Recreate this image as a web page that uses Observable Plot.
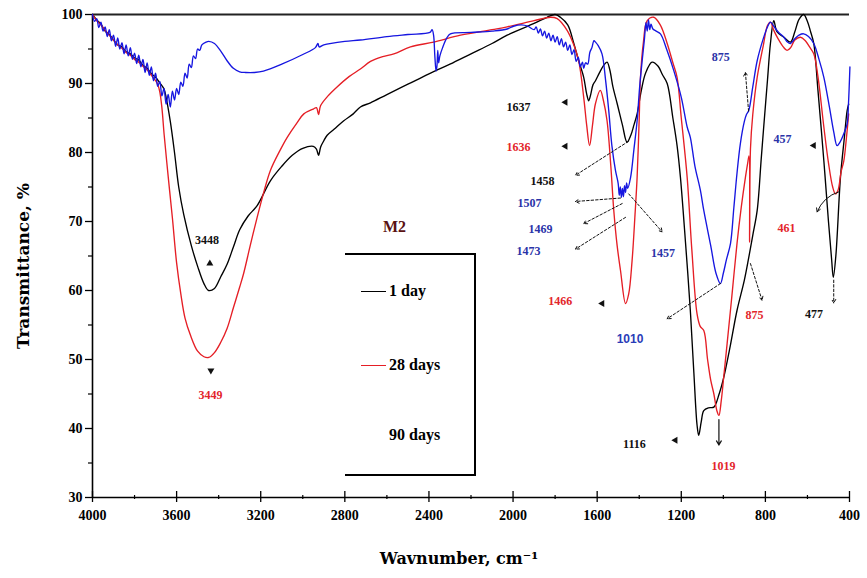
<!DOCTYPE html>
<html>
<head>
<meta charset="utf-8">
<script src="https://cdn.jsdelivr.net/npm/d3@7"></script>
<script src="https://cdn.jsdelivr.net/npm/@observablehq/plot@0.6"></script>
<style>
  html, body { margin: 0; padding: 0; background: #fff; }
  #wrap { position: relative; width: 867px; height: 578px; font-family: "Liberation Serif", serif; font-weight: bold; }
  #wrap svg { position: absolute; left: 0; top: 0; }
  .ov { position: absolute; white-space: nowrap; }
  #legbox { position: absolute; border-top: 2px solid #000; border-right: 2px solid #000; border-bottom: 2px solid #000; }
  .row { position: absolute; display: flex; align-items: center; font-size: 16px; }
  .sw { display: inline-block; width: 25px; height: 0; border-top: 1.5px solid; margin-right: 3px; }
</style>
</head>
<body>
<div id="wrap"></div>
<script>
// ---- data: wavenumber (cm-1), transmittance (%) ----
const seriesNames = ["1 day", "28 days", "90 days"];
const seriesColors = ["#000000", "#e51e25", "#1616e0"];

const day1 = [
  [4000,100],[3980,99.2],[3960,98.6],[3940,97.6],[3920,97.1],[3900,96.3],[3880,95.6],[3860,95.3],
  [3840,94.6],[3820,94.3],[3800,93.7],[3780,93.4],[3760,92.6],[3740,92.2],[3720,91.4],[3700,90.9],
  [3680,90.1],[3660,89.2],[3650,88],[3630,84.5],[3610,80],[3590,75],[3566,71],[3530,66.5],
  [3500,63.5],[3470,61],[3448,60],[3420,60.3],[3390,62],[3360,63.8],[3330,66.3],[3300,68.8],
  [3260,70.8],[3217,72.3],[3154,75.9],[3100,78],[3050,79.6],[3000,80.6],[2950,80.9],[2935,80.5],
  [2925,79.6],[2915,80.8],[2900,81.7],[2884,82.5],[2850,83.4],[2805,84.6],[2760,85.6],[2726,86.6],
  [2678,87.2],[2600,88.4],[2500,89.9],[2400,91.4],[2364,91.9],[2300,92.8],[2200,94.3],[2100,95.8],
  [2028,97.0],[1900,98.7],[1838,99.6],[1800,100],[1775,99.6],[1740,98.5],[1711,95.8],[1690,93.5],
  [1664,90.9],[1650,88.5],[1640,87.5],[1630,88.5],[1620,89.8],[1608,90.4],[1590,91.5],[1570,92.6],
  [1553,93.1],[1540,92],[1525,89.5],[1505,87.1],[1480,84],[1458,81.5],[1440,82.5],[1425,84],
  [1410,85.6],[1390,89],[1370,91.5],[1339,93.1],[1310,92.5],[1290,91.3],[1267,90],[1240,85],
  [1220,81],[1204,76.4],[1180,67],[1157,57.1],[1140,48],[1125,40.5],[1117,39],[1105,41],
  [1093,42.6],[1070,43],[1045,43.1],[1020,45],[998,47.4],[970,51.5],[935,57.1],[900,61.5],
  [879,64.8],[860,68],[839,71.6],[820,79],[808,83.7],[790,90.5],[776,95.8],[760,99.1],
  [745,97.5],[712,96.7],[681,96],[660,97.5],[640,99.3],[618,100],[600,99],[585,97.5],
  [570,95.8],[550,89],[522,78.8],[500,70],[485,64.5],[477,61.9],[465,65],[443,76.4],
  [425,82],[411,86.1],[404,87]
];

const day28 = [
  [4000,100],[3980,99.1],[3960,98.5],[3940,97.7],[3920,97.0],[3900,96.3],[3880,95.6],[3860,95.1],
  [3840,94.5],[3820,94.1],[3800,93.5],[3780,93.1],[3760,92.5],[3740,92.0],[3720,91.2],[3700,90.4],
  [3690,89.9],[3680,88.8],[3670,86.5],[3659,82.5],[3640,76.5],[3620,70.5],[3600,64],[3580,59.5],
  [3560,56],[3534,53.5],[3500,51.2],[3470,50.4],[3447,50.3],[3420,51],[3390,52.5],[3360,54.5],
  [3330,57.5],[3300,60.5],[3281,62.5],[3250,66.5],[3217,70.6],[3185,74.3],[3154,77.4],[3110,80.2],
  [3074,82.2],[3030,84.2],[2995,85.6],[2950,86.3],[2935,86.5],[2925,85.5],[2915,86.8],[2880,88.2],
  [2837,89.5],[2780,91],[2726,92.1],[2678,93.2],[2620,93.9],[2567,94.3],[2488,95.3],[2378,96],
  [2250,97],[2100,97.8],[2028,98.2],[1900,99.1],[1822,99.6],[1790,99.4],[1743,97.7],[1710,95.5],
  [1688,93.3],[1664,88],[1650,84],[1636,81],[1622,84],[1608,87.1],[1585,89],[1570,87.5],
  [1553,84.6],[1535,78],[1521,71.6],[1505,66.5],[1489,62.9],[1465,58.1],[1450,59.5],[1434,64.3],
  [1420,71],[1410,76.4],[1400,85],[1394,90.9],[1380,96],[1362,99.1],[1331,99.6],[1300,98.5],
  [1267,95.8],[1240,93],[1220,90.9],[1200,85],[1172,76.4],[1150,66],[1125,56.6],[1110,54.8],
  [1093,54.2],[1075,50],[1060,47],[1045,45],[1030,42.5],[1021,41.9],[1010,44],[998,47.5],
  [982,52.3],[960,59],[935,66.8],[915,72],[895,76.4],[884,78.5],[878,79.5],[875,67],
  [871,80.5],[860,85.5],[839,90.9],[810,95.5],[790,98.4],[776,98.9],[760,97.7],[740,96.5],
  [715,95.3],[697,94.8],[680,95.2],[660,96.3],[633,96.7],[610,96.2],[590,95.3],[570,94.3],
  [550,91],[522,83.7],[500,78.5],[480,75],[467,74],[455,74.5],[440,77.2],[427,78.8],
  [415,82],[404,85.6]
];

const day90 = [
  [4000,100],[3990,99.0],[3980,99.4],[3970,98.1],[3960,98.9],[3950,97.6],[3940,98.2],[3930,96.8],
  [3920,97.8],[3910,96.2],[3900,97.0],[3890,95.4],[3880,96.6],[3870,95.0],[3860,95.9],[3850,94.3],
  [3840,95.6],[3830,94.0],[3820,95.2],[3810,93.5],[3800,94.4],[3790,92.9],[3780,94.1],[3770,92.4],
  [3760,93.5],[3750,91.6],[3740,93.0],[3730,91.2],[3720,92.4],[3710,90.4],[3700,91.5],[3690,89.6],
  [3680,90.3],[3670,88.2],[3660,89.3],[3650,87.0],[3640,88.4],[3630,86.6],[3620,88.9],[3610,87.6],
  [3600,89.3],[3590,88.4],[3580,90.2],[3570,89.6],[3560,91.5],[3550,90.8],[3540,92.8],[3530,92.3],
  [3520,94.0],[3510,93.6],[3500,95.0],[3490,94.8],[3480,95.6],[3460,96.0],[3447,96.1],[3420,95.8],
  [3390,94.7],[3360,93.3],[3330,92.2],[3300,91.7],[3272,91.6],[3230,91.6],[3187,91.8],[3100,92.8],
  [3000,94.2],[2940,95.2],[2928,95.8],[2922,95.3],[2900,95.6],[2800,96.1],[2726,96.3],[2600,96.8],
  [2500,97.1],[2395,97.4],[2385,97.8],[2378,97.0],[2372,94],[2366,91.8],[2362,92.5],[2358,94.8],
  [2354,93.0],[2348,94.0],[2335,95.2],[2315,96.6],[2298,97.2],[2200,97.4],[2100,97.6],[2028,97.9],
  [1998,98.3],[1960,98.5],[1930,98.3],[1900,97.8],[1890,98.2],[1880,97.3],[1870,97.9],[1860,96.9],
  [1850,97.6],[1840,96.6],[1830,97.3],[1820,96.2],[1810,97.0],[1800,96.0],[1790,96.8],[1780,95.6],
  [1770,96.5],[1760,95.3],[1750,96.0],[1740,94.8],[1730,95.6],[1720,94.2],[1710,94.9],[1700,93.2],
  [1690,93.8],[1680,92.4],[1670,93.1],[1664,92.2],[1655,93.0],[1645,92.8],[1635,94.5],[1625,95.2],
  [1615,96.2],[1608,96.0],[1595,95.5],[1577,94.3],[1560,90.5],[1545,86.1],[1530,81],[1513,77.4],
  [1500,75.5],[1495,73.8],[1490,75.0],[1485,73.5],[1480,74.8],[1475,73.6],[1470,75.2],[1465,74.2],
  [1460,75.6],[1455,74.8],[1441,76.4],[1425,80.5],[1410,84.6],[1398,89.5],[1386,93.3],[1375,96.5],
  [1368,98.8],[1362,97.6],[1356,99.2],[1350,97.8],[1344,98.6],[1335,97.9],[1320,97.6],[1299,97.2],
  [1270,95],[1236,91.9],[1200,88],[1172,83.7],[1157,82.2],[1135,78],[1109,74.5],[1093,71.6],
  [1060,66.5],[1035,62.5],[1014,61],[1000,62.5],[985,64.5],[966,66.8],[950,72],[935,77],
  [919,81.3],[900,84.5],[890,85.5],[879,86.1],[860,89.5],[839,93.3],[810,96.5],[790,98.2],
  [776,98.9],[760,98.3],[740,97.5],[712,96.7],[695,96],[681,95.8],[660,96.5],[640,97],
  [618,97.2],[595,96.8],[570,95.8],[545,93.5],[522,90.9],[495,86.5],[475,83],[459,81],
  [445,81.5],[430,82.5],[411,84.2],[405,87],[398,92.4]
];

// tick values
const xMajor = [4000, 3600, 3200, 2800, 2400, 2000, 1600, 1200, 800, 400];
const xMinor = [3800, 3400, 3000, 2600, 2200, 1800, 1400, 1000, 600];
const yMajor = [30, 40, 50, 60, 70, 80, 90, 100];
const yMinor = [35, 45, 55, 65, 75, 85, 95];

// peak annotations: label, wavenumber, transmittance, colour, font
const annText  = ["3448","3449","1637","1636","1458","1507","1469","1473","1457","1466","1010","1116","1019","875","875","457","461","477"];
const annWn    = [3455, 3439, 1974, 1974, 1860, 1922, 1870, 1927, 1287, 1775, 1444, 1423, 999, 1012, 852, 719, 700, 569];
const annT     = [67.3, 44.8, 86.6, 80.8, 75.9, 72.6, 68.9, 65.7, 65.4, 58.4, 52.9, 37.8, 34.6, 93.8, 56.4, 82.0, 69.0, 56.6];
const annColor = ["#111","#e3262b","#111","#e3262b","#111","#2a33a8","#2a33a8","#2a33a8","#2a33a8","#e3262b","#2a3cb8","#111","#e3262b","#2a33a8","#e3262b","#2a33a8","#e3262b","#111"];
const annSans  = [false,false,false,false,false,false,false,false,false,false,true,false,false,false,false,false,false,false];

// lone arrow heads: wavenumber, transmittance, direction (deg)
const headWn  = [3442, 3437, 1751, 1751, 1576, 1228, 570];
const headT   = [63.9, 48.4, 87.3, 80.9, 58.1, 38.3, 81.0];
const headRot = [0, 180, 270, 270, 270, 270, 270];

// dashed pointer arrows: from (wn1,t1) to (wn2,t2)
const dashWn1 = [1452, 1489, 1481, 1465, 1450, 1014, 880, 871, 475];
const dashT1  = [81.6, 73.4, 72.6, 70.6, 74.0, 61.0, 86.0, 63.9, 61.5];
const dashWn2 = [1703, 1703, 1664, 1703, 1291, 1267, 895, 816, 475];
const dashT2  = [76.7, 72.9, 69.7, 66.0, 68.5, 55.9, 91.6, 58.6, 58.2];
// solid pointer arrows
const solidWn1 = [1021];
const solidT1  = [41.3];
const solidWn2 = [1021];
const solidT2  = [37.6];
// curved pointer arrow (461)
const bentWn1 = [451];
const bentT1  = [74.3];
const bentWn2 = [554];
const bentT2  = [71.4];

// ---- build ----
const rows = [];
[day1, day28, day90].forEach((s, k) => s.forEach(([w, t]) => rows.push({w, t, s: seriesNames[k]})));
const ann = annText.map((txt, i) => ({txt, w: annWn[i], t: annT[i], c: annColor[i], sans: annSans[i]}));
const heads = headWn.map((w, i) => ({w, t: headT[i], r: headRot[i]}));
const mk = (a, b, c, d) => a.map((w, i) => ({x1: w, y1: b[i], x2: c[i], y2: d[i]}));
const dashArr = mk(dashWn1, dashT1, dashWn2, dashT2);
const solidArr = mk(solidWn1, solidT1, solidWn2, solidT2);
const bentArr = mk(bentWn1, bentT1, bentWn2, bentT2);

const font = "Liberation Serif, Times New Roman, serif";
const chart = Plot.plot({
  width: 867, height: 578,
  marginLeft: 92, marginRight: 18, marginTop: 14, marginBottom: 81,
  x: {domain: [4000, 400]},
  y: {domain: [30, 100]},
  color: {domain: seriesNames, range: seriesColors},
  style: {fontFamily: font, background: "transparent", overflow: "visible"},
  marks: [
    Plot.axisY(yMajor, {tickSize: 7, tickPadding: 3, fontSize: 14, fontWeight: "bold", tickFormat: d => String(d), label: null, strokeWidth: 1.3}),
    Plot.axisY(yMinor, {tickSize: 4, tickFormat: () => "", label: null, strokeWidth: 1.2}),
    Plot.axisX(xMajor, {tickSize: 5, tickPadding: 8, fontSize: 14, fontWeight: "bold", tickFormat: d => String(d), label: null, strokeWidth: 1.3}),
    Plot.axisX(xMinor, {tickSize: 2, tickFormat: () => "", label: null, strokeWidth: 1.2}),
    Plot.ruleX(xMajor, {x: d => d, y1: 30, y2: 30 + 6 / 6.9, strokeWidth: 1.3}),
    Plot.ruleX(xMinor, {x: d => d, y1: 30, y2: 30 + 2 / 6.9, strokeWidth: 1.2}),
    Plot.ruleX([4000], {strokeWidth: 1.6}),
    Plot.ruleY([30], {strokeWidth: 1.6}),
    Plot.ruleY([100], {strokeWidth: 2.2, stroke: "#222"}),
    Plot.line(rows, {x: "w", y: "t", z: "s", stroke: "s", strokeWidth: 1.35, curve: "catmull-rom"}),
    Plot.arrow(dashArr, {x1: "x1", y1: "y1", x2: "x2", y2: "y2", stroke: "#111", strokeWidth: 1, strokeDasharray: "2.5,2", headLength: 6}),
    Plot.arrow(solidArr, {x1: "x1", y1: "y1", x2: "x2", y2: "y2", stroke: "#111", strokeWidth: 1.2, headLength: 6}),
    Plot.arrow(bentArr, {x1: "x1", y1: "y1", x2: "x2", y2: "y2", stroke: "#111", strokeWidth: 1, headLength: 6, bend: -25}),
    Plot.dot(heads, {x: "w", y: "t", symbol: "triangle", r: 2.6, fill: "#111", stroke: null, rotate: "r"}),
    Plot.text(ann.filter(d => !d.sans), {x: "w", y: "t", text: "txt", fill: "c", fontSize: 12, fontWeight: "bold"}),
    Plot.text(ann.filter(d => d.sans), {x: "w", y: "t", text: "txt", fill: "c", fontSize: 12, fontWeight: "bold", fontFamily: "Liberation Sans, Arial, sans-serif"}),
    Plot.text(["Transmittance, %"], {frameAnchor: "left", dx: -69, dy: 10, rotate: -90, textAnchor: "middle", fontSize: 17, fontWeight: "bold", fontFamily: "DejaVu Serif, serif"}),
    Plot.text(["Wavnumber, cm\u207B\u00B9"], {frameAnchor: "bottom", dx: -12, dy: 66, textAnchor: "middle", fontSize: 16, fontWeight: "bold", fontFamily: "DejaVu Serif, serif"})
  ]
});

const wrap = document.getElementById("wrap");
wrap.appendChild(chart);

// legend overlay
const title = document.createElement("div");
title.className = "ov";
title.style.cssText = "left:383px;top:218px;font-size:16px;color:#5a1212;";
title.textContent = "M2";
wrap.appendChild(title);

const box = document.createElement("div");
box.id = "legbox";
box.style.cssText = "left:345px;top:253px;width:129px;height:219px;";
wrap.appendChild(box);

const legTops = [282, 356, 426];
seriesNames.forEach((name, i) => {
  const r = document.createElement("div");
  r.className = "row";
  r.style.left = (i === 2 ? 389 : 361) + "px";
  r.style.top = legTops[i] + "px";
  if (i < 2) {
    const sw = document.createElement("span");
    sw.className = "sw";
    sw.style.borderColor = seriesColors[i];
    r.appendChild(sw);
  }
  const t = document.createElement("span");
  t.textContent = name;
  r.appendChild(t);
  wrap.appendChild(r);
});
</script>
</body>
</html>
